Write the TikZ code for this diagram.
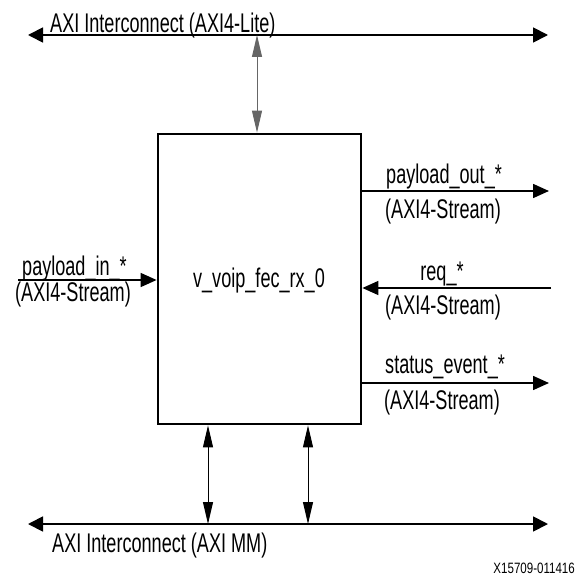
\documentclass[tikz,border=0pt]{standalone}
\usepackage{fontspec}
\setmainfont[FakeStretch=0.67]{Liberation Sans}
\newfontfamily\idfont[FakeStretch=0.77]{Liberation Sans}
\usetikzlibrary{arrows.meta}
\begin{document}
\begin{tikzpicture}[x=1pt,y=-1pt,
  lbl/.style={font=\fontsize{27}{27}\selectfont, inner sep=0pt, anchor=base},
  bus/.style={line width=1.8pt, {Triangle[length=15pt,width=15pt]}-{Triangle[length=15pt,width=15pt]}},
  sig/.style={line width=1.6pt, -{Triangle[length=16pt,width=14pt]}},
  vlink/.style={line width=1pt, {Triangle[length=22pt,width=10pt]}-{Triangle[length=22pt,width=10pt]}},
  blockbox/.style={draw, line width=2.8pt, minimum width=203pt, minimum height=290pt, inner sep=0pt}]
\useasboundingbox (0,0) rectangle (576,577);
% buses
\coordinate (tl) at (28,35);
\coordinate (tr) at (548,35);
\draw[bus] (tl) -- (tr);
\node[lbl, anchor=base west] (toptxt) at (50,33) {AXI Interconnect (AXI4-Lite)};
\coordinate (bl) at (28,524);
\coordinate (br) at (548,524);
\draw[bus] (bl) -- (br);
\node[lbl, anchor=base west] (bottxt) at (52,552) {AXI Interconnect (AXI MM)};
% block
\node[blockbox] (blk) at (259.5,279) {};
\node[lbl] (blkname) at (259,287) {v\_voip\_fec\_rx\_0};
% top link
\coordinate (tt) at (257,35);
\draw[vlink, draw=black!60, fill=black!75] (tt) -- (tt |- blk.north);
% bottom links
\coordinate (b1) at (208,524);
\coordinate (b2) at (308,524);
\draw[vlink] (b1 |- blk.south) -- (b1);
\draw[vlink] (b2 |- blk.south) -- (b2);
% payload in
\coordinate (pin) at (18,280);
\draw[sig] (pin) -- (pin -| blk.west);
\node[lbl, anchor=base west] (pint) at (22,275) {payload\_in\_*};
\node[lbl, anchor=base west] (pins) at (15,301) {(AXI4-Stream)};
% payload out
\coordinate (pout) at (549,191);
\draw[sig] (pout -| blk.east) -- (pout);
\node[lbl, anchor=base west] (poutt) at (386,183) {payload\_out\_*};
\node[lbl, anchor=base west] (pouts) at (385,218) {(AXI4-Stream)};
% req
\coordinate (req) at (551,288);
\draw[sig] (req) -- (req -| blk.east);
\node[lbl] (reqt) at (442,280) {req\_*};
\node[lbl, anchor=base west] (reqs) at (385,314) {(AXI4-Stream)};
% status
\coordinate (st) at (549,383);
\draw[sig] (st -| blk.east) -- (st);
\node[lbl, anchor=base west] (stt) at (385,373) {status\_event\_*};
\node[lbl, anchor=base west] (sts) at (384,409) {(AXI4-Stream)};
% figure id
\node[font=\idfont\fontsize{15}{15}\selectfont, inner sep=0pt, anchor=base east] (fid) at (575,573) {X15709-011416};
\end{tikzpicture}
\end{document}
